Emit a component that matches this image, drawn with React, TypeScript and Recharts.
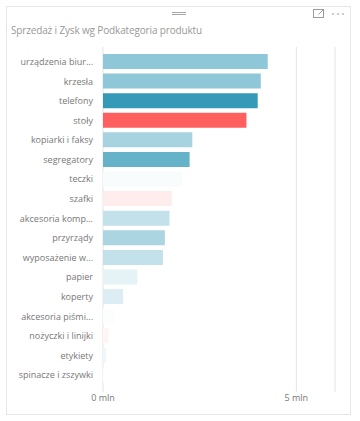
import { BarChart, Bar, XAxis, YAxis, CartesianGrid, Cell } from "recharts";

const FONT = "'Open Sans', 'Noto Sans', sans-serif";
const LABEL = "#777777";
const GRID = "#e4e4e4";
const BLUE = [52, 154, 184];
const RED = [255, 95, 95];

const categories = [
  "urządzenia biur...",
  "krzesła",
  "telefony",
  "stoły",
  "kopiarki i faksy",
  "segregatory",
  "teczki",
  "szafki",
  "akcesoria komp...",
  "przyrządy",
  "wyposażenie w...",
  "papier",
  "koperty",
  "akcesoria piśmi...",
  "nożyczki i linijki",
  "etykiety",
  "spinacze i zszywki",
];

// sprzedaż, mln
const sales = [4.26, 4.08, 4.0, 3.71, 2.31, 2.24, 2.05, 1.78, 1.72, 1.6, 1.55, 0.89, 0.52, 0.3, 0.14, 0.08, 0.04];

// zysk, mln (drives the diverging colour)
const profit = [0.5, 0.5, 0.9, -0.4, 0.39, 0.68, 0.03, -0.048, 0.27, 0.37, 0.27, 0.11, 0.155, 0.013, -0.024, 0.075, 0.013];

const xTicks = [0, 5];

const maxProfit = Math.max(...profit);
const minProfit = Math.min(...profit);

function mix(target: number[], t: number) {
  const c = target.map((v) => Math.round(255 + (v - 255) * t));
  return `rgb(${c[0]}, ${c[1]}, ${c[2]})`;
}

function profitColor(p: number) {
  if (p >= 0) return mix(BLUE, p / maxProfit);
  return mix(RED, p / minProfit);
}

const data = categories.map((name, i) => ({ name, sales: sales[i], profit: profit[i] }));

const tickStyle = { fill: LABEL, fontSize: 9, fontFamily: FONT };

function CategoryTick(props: any) {
  const { x, y, payload } = props;
  return (
    <text x={x} y={y} dy="0.35em" textAnchor="end" {...tickStyle}>
      {payload.value}
    </text>
  );
}

function Header() {
  return (
    <svg width={360} height={24} style={{ position: "absolute", left: 0, top: 0 }}>
      <line x1={172} x2={186} y1={12.5} y2={12.5} stroke="#a6a6a6" />
      <line x1={172} x2={186} y1={14.5} y2={14.5} stroke="#a6a6a6" />
      <rect x={313.5} y={9.5} width={10} height={8} fill="none" stroke="#9a9a9a" />
      <path d="M318.5 14.5 L323.5 9.5 M320 9.5 H323.5 V13" fill="none" stroke="#9a9a9a" />
      <circle cx={333} cy={14} r={0.8} fill="#8a8a8a" />
      <circle cx={338} cy={14} r={0.8} fill="#8a8a8a" />
      <circle cx={343} cy={14} r={0.8} fill="#8a8a8a" />
    </svg>
  );
}

export default function App() {
  return (
    <div style={{ position: "absolute", left: 0, top: 0, width: 360, height: 421, background: "#fff" }}>
      <div
        style={{
          position: "absolute",
          left: 6,
          top: 6,
          width: 345,
          height: 409,
          boxSizing: "border-box",
          border: "1px solid #e6e6e6",
        }}
      />
      <Header />
      <div
        style={{
          position: "absolute",
          left: 11,
          top: 23,
          fontFamily: FONT,
          fontSize: 10,
          letterSpacing: -0.15,
          color: "#999999",
          whiteSpace: "nowrap",
        }}
      >
        Sprzedaż i Zysk wg Podkategoria produktu
      </div>
      <div style={{ position: "absolute", left: 0, top: 0 }}>
        <BarChart
          width={360}
          height={421}
          data={data}
          layout="vertical"
          margin={{ top: 47, right: 25, bottom: 9, left: 0 }}
        >
          <CartesianGrid horizontal={false} stroke={GRID} />
          <XAxis
            type="number"
            domain={[0, 6]}
            ticks={xTicks}
            tickFormatter={(v) => `${v} mln`}
            axisLine={false}
            tickLine={false}
            tickSize={3}
            tickMargin={0}
            height={20}
            tick={tickStyle}
          />
          <YAxis
            type="category"
            dataKey="name"
            width={103}
            axisLine={false}
            tickLine={false}
            tickMargin={4}
            interval={0}
            padding={{ top: 5, bottom: 7 }}
            tick={<CategoryTick />}
          />
          <Bar dataKey="sales" barSize={15} isAnimationActive={false}>
            {data.map((d) => (
              <Cell key={d.name} fill={profitColor(d.profit)} />
            ))}
          </Bar>
        </BarChart>
      </div>
    </div>
  );
}
